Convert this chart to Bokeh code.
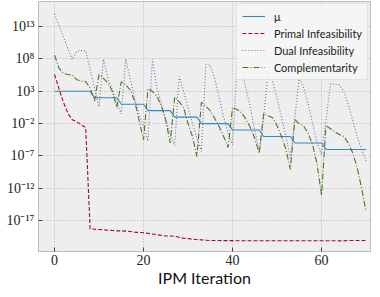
from bokeh.plotting import figure
from bokeh.models import FixedTicker, CustomJSTickFormatter, Range1d, Legend, LegendItem
from bokeh.embed import file_html
from bokeh.resources import INLINE

iterations = list(range(71))

mu_log10 = [3, 3, 3, 3, 3, 3, 3, 3, 3,
            2, 2, 2, 2, 2, 2,
            1, 1, 1, 1, 1, 1,
            0, 0, 0, 0, 0, 0,
            -1, -1, -1, -1, -1, -1,
            -2, -2, -2, -2, -2, -2, -2,
            -3, -3, -3, -3, -3, -3, -3,
            -4, -4, -4, -4, -4, -4, -4,
            -5, -5, -5, -5, -5, -5, -5,
            -6, -6, -6, -6, -6, -6, -6, -6, -6, -6]

primal_log10 = [5.6, 3.4, 1.3, -0.4, -1.4, -1.7, -2.2, -2.6,
                -18.3, -18.35, -18.4, -18.45, -18.5, -18.55, -18.6,
                -18.6, -18.65, -18.7, -18.8, -18.85, -18.9, -19.0,
                -19.1, -19.2, -19.3, -19.4, -19.4, -19.45, -19.6,
                -19.75, -19.8, -19.9, -19.95, -20.0, -20.05, -20.1,
                -20.1, -20.1, -20.12, -20.12, -20.12, -20.13, -20.13,
                -20.13, -20.13, -20.13, -20.13, -20.13, -20.13, -20.13,
                -20.13, -20.13, -20.13, -20.13, -20.13, -20.13, -20.13,
                -20.13, -20.13, -20.13, -20.13, -20.13, -20.13, -20.13,
                -20.15, -20.15, -20.1, -20.1, -20.1, -20.1, -20.1]

dual_log10 = [15.0, 13.2, 11.4, 9.6, 7.9, 9.2, 9.3, 9.3,
              6.4, 3.5, 0.6,
              8.0, 5.0, 3.2, 1.2, -0.5,
              8.0, 5.0, 2.0, -0.5, -2.5, -4.7,
              8.0, 3.5, 1.0, -1.5, -3.5, -5.4,
              5.3, 3.0, 0.5, -2.0, -4.3, -6.3,
              7.1, 7.0, 5.0, 2.0, -1.0, -3.5, -5.3,
              6.8, 6.5, 3.5, 0.5, -3.0, -6.3, -1.0,
              6.2, 4.5, 2.0, -1.0, -4.0, -7.3, -1.0,
              5.0, 3.5, 1.0, -2.0, -5.0, -6.8, -1.5,
              4.2, 4.1, 4.0, 3.0, 1.0, -1.5, -4.0, -6.0, -7.8]

comp_log10 = [8.6, 6.6, 5.75, 5.6, 5.5, 4.8, 4.6, 4.5,
              3.5, 1.5, 5.6,
              5.0, 4.3, 3.0, 0.5, 4.5,
              4.0, 3.2, 1.5, -1.5, -4.5, 3.4,
              3.0, 2.2, 0.8, -1.5, -5.0, 2.1,
              1.4, 0.5, -2.0, -4.0, -7.1, 1.3,
              0.7, 0.0, -1.2, -2.5, -4.0, -5.7, 0.5,
              0.2, -0.3, -1.3, -2.6, -4.3, -6.6, -0.4,
              -0.8, -1.1, -2.3, -4.0, -6.0, -9.1, -1.4,
              -2.0, -2.4, -3.5, -5.3, -8.3, -13.1, -2.3,
              -2.8, -3.3, -3.7, -4.0, -5.0, -6.5, -8.8, -12.0, -15.6]

y_ticks = [1e-17, 1e-12, 1e-7, 1e-2, 1e3, 1e8, 1e13]
x_ticks = [0, 20, 40, 60]
labels = ["\u03bc", "Primal Infeasibility", "Dual Infeasibility", "Complementarity"]
colors = ["#348ABD", "#A60628", "#7A68A6", "#467821"]
dashes = ["solid", "4 2", "1 2", "6 2 1 2"]

mu = [10 ** v for v in mu_log10]
primal = [10 ** v for v in primal_log10]
dual = [10 ** v for v in dual_log10]
comp = [10 ** v for v in comp_log10]

p = figure(width=372, height=289, y_axis_type="log",
           x_range=Range1d(-3.6, 71.0), y_range=Range1d(10 ** -21.8, 10 ** 16.9),
           output_backend="svg", toolbar_location=None,
           min_border_left=38, min_border_right=2, min_border_top=1, min_border_bottom=0)

p.background_fill_color = "#eeeeee"
p.border_fill_color = "white"
p.outline_line_color = "#bcbcbc"

renderers = []
for ys, c, d in zip([mu, primal, dual, comp], colors, dashes):
    r = p.line(iterations, ys, line_color=c, line_width=1.1, line_dash=d)
    renderers.append(r)

p.yaxis.ticker = FixedTicker(ticks=y_ticks)
p.ygrid.ticker = FixedTicker(ticks=y_ticks)
p.xaxis.ticker = FixedTicker(ticks=x_ticks)
p.xgrid.ticker = FixedTicker(ticks=x_ticks)

p.yaxis.formatter = CustomJSTickFormatter(code="""
const sup = {'0':'\u2070','1':'\u00b9','2':'\u00b2','3':'\u00b3','4':'\u2074','5':'\u2075',
             '6':'\u2076','7':'\u2077','8':'\u2078','9':'\u2079','-':'\u207b'};
const e = Math.round(Math.log10(tick));
return '10' + String(e).split('').map(c => sup[c]).join('');
""")

for g in (p.xgrid, p.ygrid):
    g.grid_line_color = "#b2b2b2"
    g.grid_line_dash = "1 2"
    g.grid_line_width = 1

for ax in (p.xaxis, p.yaxis):
    ax.axis_line_color = "#bcbcbc"
    ax.major_tick_in = 4
    ax.major_tick_out = 0
    ax.major_tick_line_color = "#444444"
    ax.minor_tick_line_color = None
    ax.major_label_text_font = "Liberation Serif"
    ax.major_label_text_font_size = "14px"
    ax.major_label_text_color = "#222222"
    ax.major_label_text_line_height = 1.0

p.yaxis.major_label_standoff = 4
p.xaxis.major_label_standoff = 3
p.xaxis.axis_label = "IPM Iteration"
p.xaxis.axis_label_text_font = "Lato"
p.xaxis.axis_label_text_font_style = "normal"
p.xaxis.axis_label_text_font_size = "16px"
p.xaxis.axis_label_text_line_height = 0.8
p.xaxis.axis_label_standoff = 0
p.xaxis.axis_label_text_color = "#111111"

legend = Legend(items=[LegendItem(label=l, renderers=[r]) for l, r in zip(labels, renderers)],
                location="top_right")
legend.label_text_font = "Lato"
legend.label_text_font_size = "11px"
legend.label_text_color = "#222222"
legend.glyph_width = 23
legend.glyph_height = 14
legend.label_height = 14
legend.label_standoff = 9
legend.spacing = 3
legend.padding = 5
legend.margin = 2
legend.background_fill_color = "#f6f6f6"
legend.background_fill_alpha = 0.85
legend.border_line_color = "#cccccc"
p.add_layout(legend)

open("out.html", "w").write(file_html(p, INLINE))
